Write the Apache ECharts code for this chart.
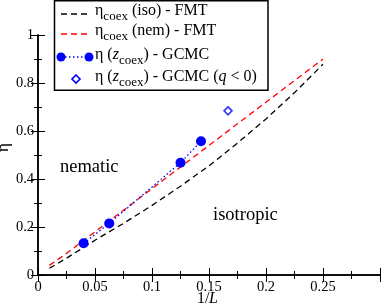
<!DOCTYPE html>
<html><head><meta charset="utf-8">
<script src="https://cdn.jsdelivr.net/npm/echarts@6/dist/echarts.min.js"></script>
<style>html,body{margin:0;padding:0;background:#fff}#c{width:382px;height:305px}</style>
</head><body><div id="c"></div>
<script>
// Data
const fmtX = [0.01, 0.025, 0.05, 0.075, 0.1, 0.125, 0.15, 0.175, 0.2, 0.225, 0.25];
const isoFMT = [0.028, 0.07, 0.145, 0.215, 0.29, 0.37, 0.455, 0.55, 0.65, 0.76, 0.878];
const nemFMT = [0.04, 0.09, 0.18, 0.27, 0.36, 0.45, 0.54, 0.63, 0.72, 0.81, 0.9];
const gcmcX = [0.04, 0.0625, 0.125, 0.143];
const gcmcY = [0.132, 0.215, 0.468, 0.557];
const gcmcNegX = [0.1667];
const gcmcNegY = [0.684];
const xTickLabels = ['0', '0.05', '0.1', '0.15', '0.2', '0.25', ''];
const yTickLabels = ['0', '0.2', '0.4', '0.6', '0.8', '1'];

const F = "'Liberation Serif', 'Times New Roman', serif";
const zip = (a, b) => a.map((v, i) => [v, b[i]]);
const chart = echarts.init(document.getElementById('c'));

const axisCommon = {
  axisLine: {show: true, lineStyle: {color: '#000', width: 1.5}},
  axisTick: {show: true, inside: true, length: 7, lineStyle: {color: '#000', width: 1}},
  minorTick: {show: true, splitNumber: 2, length: 4, lineStyle: {color: '#000', width: 1}},
  splitLine: {show: false}
};

// text-run builder (for subscripts / italics in legend)
const mctx = document.createElement('canvas').getContext('2d');
function fontStr(size, italic) { return (italic ? 'italic ' : '') + size + 'px ' + F; }
function runs(x, baseline, parts) {
  const out = [];
  parts.forEach(p => {
    const size = p.sub ? 13 : 16;
    const f = fontStr(size, p.it);
    mctx.font = f;
    const w = mctx.measureText(p.t).width;
    out.push({type: 'text', z: 22, x: x, y: baseline + (p.sub ? 4.7 : 0) - 0.33 * size,
      style: {text: p.t, font: f, fill: '#000', verticalAlign: 'middle', align: 'left'}});
    x += w;
  });
  return out;
}

const legX0 = 61, legX1 = 89, legTx = 95;
const rows = [14, 34, 57, 79];
const bases = [16.5, 36.3, 60, 81.7];

const legendTexts = [].concat(
  runs(legTx, bases[0], [{t: 'η'}, {t: 'coex', sub: 1}, {t: ' (iso) - FMT'}]),
  runs(legTx, bases[1], [{t: 'η'}, {t: 'coex', sub: 1}, {t: ' (nem) - FMT'}]),
  runs(legTx, bases[2], [{t: 'η ('}, {t: 'z', it: 1}, {t: 'coex', sub: 1}, {t: ') - GCMC'}]),
  runs(legTx, bases[3], [{t: 'η ('}, {t: 'z', it: 1}, {t: 'coex', sub: 1}, {t: ') - GCMC ('}, {t: 'q', it: 1}, {t: ' < 0)'}])
);

chart.setOption({
  animation: false,
  grid: {left: 38, right: 2, top: 35, bottom: 30, containLabel: false, outerBoundsMode: 'none'},
  xAxis: [
    Object.assign({type: 'value', min: 0, max: 0.3, interval: 0.05, position: 'bottom',
      axisLabel: {fontFamily: F, fontSize: 14.5, color: '#000', margin: 5,
        formatter: v => xTickLabels[Math.round(v / 0.05)]}}, axisCommon),
    Object.assign({type: 'value', min: 0, max: 0.3, interval: 0.05, position: 'top',
      axisLabel: {show: false}}, axisCommon)
  ],
  yAxis: [
    Object.assign({type: 'value', min: 0, max: 1, interval: 0.2, position: 'left',
      axisLabel: {fontFamily: F, fontSize: 14.5, color: '#000', margin: 4,
        formatter: v => yTickLabels[Math.round(v / 0.2)]}}, axisCommon),
    Object.assign({type: 'value', min: 0, max: 1, interval: 0.2, position: 'right',
      axisLabel: {show: false}}, axisCommon)
  ],
  series: [
    {type: 'line', data: zip(fmtX, isoFMT), showSymbol: false, symbol: 'none',
      lineStyle: {color: '#000', width: 1.3, type: [6, 4]}, z: 2},
    {type: 'line', data: zip(fmtX, nemFMT), showSymbol: false, symbol: 'none',
      lineStyle: {color: '#ff0000', width: 1.3, type: [6, 4]}, z: 2},
    {type: 'line', data: zip(gcmcX, gcmcY), symbol: 'circle', symbolSize: 10,
      itemStyle: {color: '#0000ff'},
      lineStyle: {color: '#0000ff', width: 1.3, type: [1.5, 2.5]}, z: 3},
    {type: 'scatter', data: zip(gcmcNegX, gcmcNegY), symbol: 'diamond', symbolSize: 8,
      itemStyle: {color: '#fff', borderColor: '#0000ff', borderWidth: 1.6}, z: 3}
  ],
  graphic: [
    // axis titles
    {type: 'text', z: 10, x: 3.5, y: 147.5, rotation: Math.PI / 2,
      style: {text: 'η', font: fontStr(17), fill: '#000', align: 'center', verticalAlign: 'middle'}},
    {type: 'text', z: 10, x: 197, y: 298.5,
      style: {text: '1/', font: fontStr(16), fill: '#000', align: 'left', verticalAlign: 'middle'}},
    {type: 'text', z: 10, x: 209, y: 298.5,
      style: {text: 'L', font: fontStr(16, true), fill: '#000', align: 'left', verticalAlign: 'middle'}},
    // region labels
    {type: 'text', left: 60, top: 158, z: 10,
      style: {text: 'nematic', font: fontStr(18.5), fill: '#000'}},
    {type: 'text', left: 213, top: 206, z: 10,
      style: {text: 'isotropic', font: fontStr(18.5), fill: '#000'}},
    // legend
    {type: 'rect', z: 20, shape: {x: 54.5, y: 0.75, width: 213.5, height: 89.5},
      style: {fill: '#fff', stroke: '#000', lineWidth: 1.5}},
    {type: 'line', z: 21, shape: {x1: legX0, y1: rows[0], x2: legX1, y2: rows[0]},
      style: {stroke: '#000', lineWidth: 1.3, lineDash: [6, 4]}},
    {type: 'line', z: 21, shape: {x1: legX0, y1: rows[1], x2: legX1, y2: rows[1]},
      style: {stroke: '#ff0000', lineWidth: 1.3, lineDash: [6, 4]}},
    {type: 'line', z: 21, shape: {x1: legX0, y1: rows[2], x2: legX1, y2: rows[2]},
      style: {stroke: '#0000ff', lineWidth: 1.3, lineDash: [1.5, 2.5]}},
    {type: 'circle', z: 22, shape: {cx: legX0, cy: rows[2], r: 4.5}, style: {fill: '#0000ff'}},
    {type: 'circle', z: 22, shape: {cx: legX1, cy: rows[2], r: 4.5}, style: {fill: '#0000ff'}},
    {type: 'polygon', z: 22, shape: {points: [[76, rows[3] - 4], [80, rows[3]], [76, rows[3] + 4], [72, rows[3]]]},
      style: {fill: '#fff', stroke: '#0000ff', lineWidth: 1.6}}
  ].concat(legendTexts)
});
</script></body></html>
